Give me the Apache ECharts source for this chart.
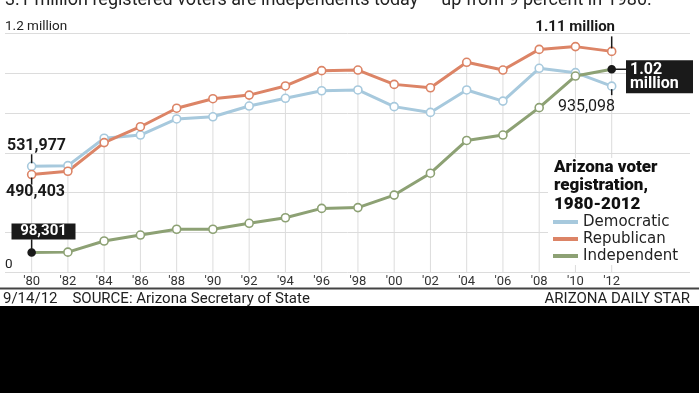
<!DOCTYPE html>
<html>
<head>
<meta charset="utf-8">
<script src="https://cdn.jsdelivr.net/npm/echarts@6/dist/echarts.min.js"></script>
<style>
html,body{margin:0;padding:0;background:#fff;}
#c{width:699px;height:393px;}
</style>
</head>
<body>
<div id="c"></div>
<script>
const years = [1980,1982,1984,1986,1988,1990,1992,1994,1996,1998,2000,2002,2004,2006,2008,2010,2012];
const tickLabels = ["'80","'82","'84","'86","'88","'90","'92","'94","'96","'98","'00","'02","'04","'06","'08","'10","'12"];
const democratic = [531977,535000,673000,689000,770000,781000,835000,874000,912000,916000,832000,803000,916000,860000,1025000,1003000,935098];
const republican = [490403,507000,651000,731000,824000,872000,890000,936000,1013000,1016000,944000,927000,1055000,1016000,1120000,1134000,1110000];
const independent = [98301,100000,156000,186000,215000,215000,245000,273000,320000,324000,387000,497000,662000,689000,827000,986000,1020000];
const yTickLabels = {0:'0', 1200000:'1.2 million'};
const headline = '3.1 million registered voters are independents today \u2014 up from 9 percent in 1980.';
const legendTitle = 'Arizona voter\nregistration,\n1980-2012';

const COLORS = {dem:'#a7c9dd', rep:'#dc8466', ind:'#8da174'};
const FONT = 'Roboto, "Liberation Sans", sans-serif';

const chart = echarts.init(document.getElementById('c'), null, {renderer:'canvas'});

function pts(vals, color, specialIdx) {
  return years.map((y, i) => {
    const d = {value:[y, vals[i]]};
    if (specialIdx && specialIdx.indexOf(i) >= 0) {
      d.symbolSize = 7;
      d.itemStyle = {color:'#1a1a1a', borderColor:'#1a1a1a'};
    }
    return d;
  });
}
const last = years.length - 1;
const maxVals = years.map((y, i) => [y, Math.max(democratic[i], republican[i], independent[i])]);

function lineSeries(name, vals, color, special) {
  return {
    name, type:'line', data: pts(vals, color, special),
    symbol:'circle', symbolSize:8, showSymbol:true,
    lineStyle:{color, width:3},
    itemStyle:{color:'#fff', borderColor:color, borderWidth:1.6},
    emphasis:{disabled:true}, z:3, animation:false
  };
}

const option = {
  animation:false,
  textStyle:{fontFamily:FONT},
  grid:{left:5, right:9, top:33.5, bottom:121, containLabel:false},
  xAxis:{
    type:'value', min:1978.53, max:2016.32,
    axisLine:{show:false}, axisTick:{show:false}, splitLine:{show:false},
    axisLabel:{
      customValues: years,
      formatter: v => tickLabels[years.indexOf(Math.round(v))] || '',
      color:'#333', fontSize:13, margin:3, fontFamily:FONT
    }
  },
  yAxis:{
    type:'value', min:0, max:1200000, interval:200000,
    axisLine:{show:false}, axisTick:{show:false},
    splitLine:{lineStyle:{color:'#dcdcdc', width:1}},
    axisLabel:{
      inside:true, margin:0, verticalAlign:'bottom', align:'left',
      padding:0, color:'#222', fontSize:13.5, fontFamily:FONT,
      formatter: v => yTickLabels[v] !== undefined ? yTickLabels[v] : ''
    }
  },
  title:{
    text: legendTitle, left:554, top:158, padding:0,
    textStyle:{fontFamily:FONT, fontWeight:900, fontSize:17, lineHeight:18.5, color:'#111'}
  },
  legend:{
    orient:'vertical', left:553, top:213.5, padding:0, itemGap:0,
    icon:'rect', itemWidth:25, itemHeight:4,
    textStyle:{fontFamily:'"DejaVu Sans", sans-serif', fontSize:15, lineHeight:17, color:'#222'},
    data:[
      {name:'Democratic', itemStyle:{color:COLORS.dem, borderWidth:0}},
      {name:'Republican', itemStyle:{color:COLORS.rep, borderWidth:0}},
      {name:'Independent', itemStyle:{color:COLORS.ind, borderWidth:0}}
    ],
    selectedMode:false
  },
  series:[
    {name:'drop', type:'bar', data:maxVals, barWidth:1, itemStyle:{color:'#dcdcdc'}, silent:true, z:1, animation:false},
    lineSeries('Democratic', democratic, COLORS.dem, null),
    lineSeries('Republican', republican, COLORS.rep, null),
    lineSeries('Independent', independent, COLORS.ind, [0, last])
  ]
};
chart.setOption(option);

function px(i, vals) { return chart.convertToPixel({seriesIndex:1}, [years[i], vals[i]]); }
const pD0 = px(0, democratic), pR0 = px(0, republican), pI0 = px(0, independent);
const pDL = px(last, democratic), pRL = px(last, republican), pIL = px(last, independent);

const blk = '#1a1a1a';
const tick = (x1,y1,x2,y2) => ({type:'line', shape:{x1,y1,x2,y2}, style:{stroke:blk, lineWidth:1.5}, z:10});
const txt = (x,y,text,opt) => ({type:'text', x, y, z:10, style:Object.assign({text, fill:'#1a1a1a', font:'bold 15px '+FONT, verticalAlign:'middle', align:'left'}, opt||{})});

const graphics = [
  // headline, cut off at top
  txt(5, 9, headline, {font:'18px '+FONT, verticalAlign:'bottom', fill:'#222'}),
  // legend background
  {type:'rect', shape:{x:548, y:158, width:151, height:107}, style:{fill:'#fff'}, z:3},
  // 1980 annotations
  tick(pD0[0], pD0[1]-12, pD0[0], pD0[1]-3),
  txt(7, pD0[1]-20, '531,977', {font:'bold 16px '+FONT}),
  tick(pR0[0], pR0[1]+3, pR0[0], pR0[1]+10),
  txt(6, pR0[1]+17, '490,403', {font:'bold 16px '+FONT}),
  {type:'rect', shape:{x:11.5, y:pI0[1]-29, width:64, height:16}, style:{fill:'#1a1a1a'}, z:9},
  tick(pI0[0], pI0[1]-13, pI0[0], pI0[1]),
  txt(43.5, pI0[1]-21, '98,301', {font:'bold 15px '+FONT, fill:'#fff', align:'center'}),
  // 2012 annotations
  tick(pRL[0], pRL[1]-15, pRL[0], pRL[1]-3),
  txt(615, pRL[1]-24, '1.11 million', {font:'bold 15px '+FONT, align:'right'}),
  tick(pDL[0], pDL[1]+3, pDL[0], pDL[1]+9),
  txt(615, pDL[1]+21, '935,098', {font:'16px '+FONT, align:'right'}),
  tick(pIL[0], pIL[1], 626, pIL[1]),
  {type:'rect', shape:{x:626, y:pIL[1]-9, width:67, height:33}, style:{fill:'#1a1a1a'}, z:9},
  txt(630, pIL[1]+1, '1.02', {font:'bold 16px '+FONT, fill:'#fff'}),
  txt(630, pIL[1]+15, 'million', {font:'bold 16px '+FONT, fill:'#fff'}),
  // footer
  {type:'line', shape:{x1:0, y1:288.5, x2:699, y2:288.5}, style:{stroke:'#444', lineWidth:2}, z:10},
  txt(3, 299, '9/14/12    SOURCE: Arizona Secretary of State', {font:'15px '+FONT, fill:'#222'}),
  txt(690, 299, 'ARIZONA DAILY STAR', {font:'15px '+FONT, fill:'#222', align:'right'}),
  {type:'rect', shape:{x:0, y:306, width:699, height:87}, style:{fill:'#000'}, z:10}
];
chart.setOption({graphic:{elements:graphics}});
</script>
</body>
</html>
